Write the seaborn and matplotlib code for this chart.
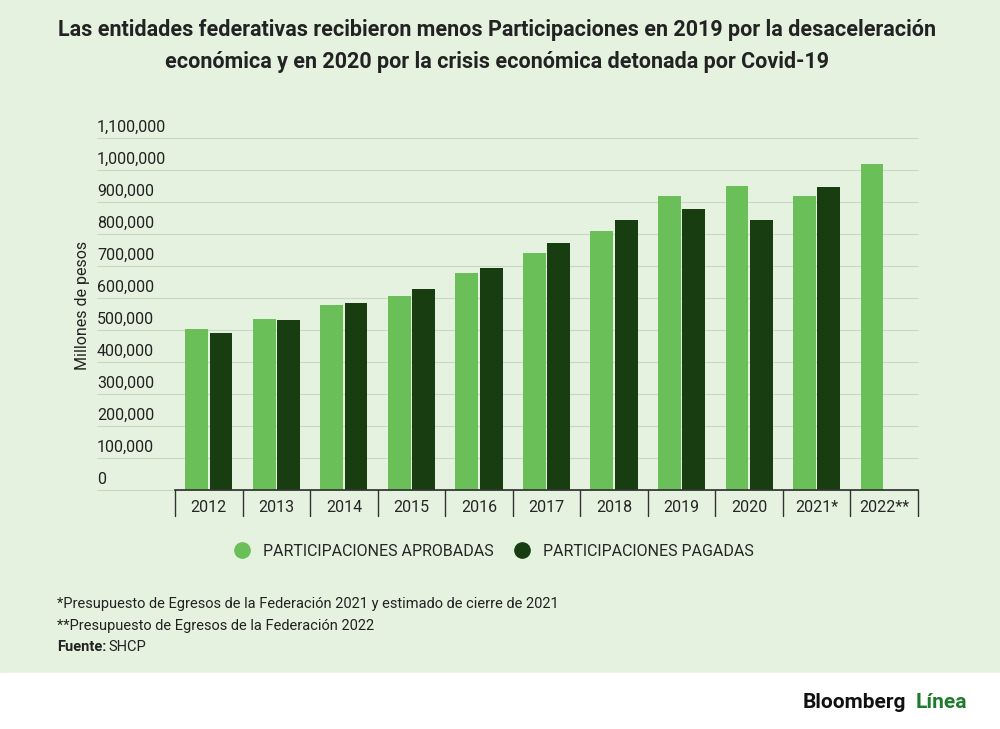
import matplotlib
matplotlib.use("Agg")
import matplotlib.pyplot as plt
import seaborn as sns
import pandas as pd
import numpy as np

years = ["2012","2013","2014","2015","2016","2017","2018","2019","2020","2021*","2022**"]
aprobadas = [503000,534000,578000,606000,678000,741000,809000,919000,950000,919000,1019000]
pagadas = [491000,531000,584000,628000,694000,772000,844000,878000,844000,947000,np.nan]
series = ["PARTICIPACIONES APROBADAS","PARTICIPACIONES PAGADAS"]
yticks = list(range(0,1100001,100000))

df = pd.DataFrame({"year": years*2, "serie": [series[0]]*11+[series[1]]*11,
                   "valor": aprobadas+pagadas})

sns.set_theme(style="white")
plt.rcParams['font.family'] = ['Roboto','DejaVu Sans']
bg = "#e5f2df"
c1, c2 = "#6abf59", "#173d10"
fig = plt.figure(figsize=(10,7.29), dpi=100)
fig.patch.set_facecolor(bg)
fig.patches.append(plt.Rectangle((0,0),1,56/729,transform=fig.transFigure,color="white",zorder=0))
ax = fig.add_axes([0.175, 1-490/729, 0.918-0.175, (490-138)/729])
ax.set_facecolor(bg)
sns.barplot(data=df, x="year", y="valor", hue="serie", palette=[c1,c2], saturation=1,
            ax=ax, width=0.72, gap=0.06, legend=False, linewidth=0, edgecolor="none")
ax.set_ylim(0,1100000)
ax.set_xlim(-0.5,10.5)
for s in ["top","right","left"]:
    ax.spines[s].set_visible(False)
ax.spines["bottom"].set_color("#333333")
ax.set_yticks([])
for v in yticks:
    ax.axhline(v, color="#c8d8c2", lw=0.8, zorder=0, xmin=-0.105, clip_on=False)
    ax.text(-0.105, v+10000, f"{v:,}", transform=ax.get_yaxis_transform(), ha="left",
            va="bottom", fontsize=11.5, color="#222222")
ax.tick_params(axis="x", length=0, labelsize=11.5, pad=7)
ax.set_xlabel("")
ax.set_ylabel("")
for i in range(12):
    ax.plot([i-0.5,i-0.5],[0,-0.075],transform=ax.get_xaxis_transform(),color="#333333",lw=1,clip_on=False)
fig.text(0.083, 1-305/729, "Millones de pesos", rotation=90, ha="center", va="center", fontsize=11.5, color="#222222")
fig.text(0.497, 1-30/729, "Las entidades federativas recibieron menos Participaciones en 2019 por la desaceleración", ha="center", va="center", fontsize=15.5, fontweight="bold", color="#222222")
fig.text(0.497, 1-62/729, "económica y en 2020 por la crisis económica detonada por Covid-19", ha="center", va="center", fontsize=15.5, fontweight="bold", color="#222222")
from matplotlib.lines import Line2D
h = [Line2D([],[],marker="o",ls="",color=c,markersize=11) for c in [c1,c2]]
fig.legend(h, series, loc="center", bbox_to_anchor=(0.49, 1-551/729), ncol=2, frameon=False,
           fontsize=11.5, handletextpad=0.3, columnspacing=0.8)
fig.text(0.057, 1-604/729, "*Presupuesto de Egresos de la Federación 2021 y estimado de cierre de 2021", fontsize=10.5, va="center", color="#222222")
fig.text(0.057, 1-626/729, "**Presupuesto de Egresos de la Federación 2022", fontsize=10.5, va="center", color="#222222")
fig.text(0.057, 1-647/729, "Fuente:", fontsize=10.5, va="center", fontweight="bold", color="#222222")
fig.text(0.108, 1-647/729, "SHCP", fontsize=10.5, va="center", color="#222222")
fig.text(0.803, 1-702/729, "Bloomberg", fontsize=15, fontweight="bold", va="center", color="#111111")
fig.text(0.916, 1-702/729, "Línea", fontsize=15, fontweight="bold", va="center", color="#1e7b2c")
fig.savefig("out.png", dpi=100, facecolor=bg)
